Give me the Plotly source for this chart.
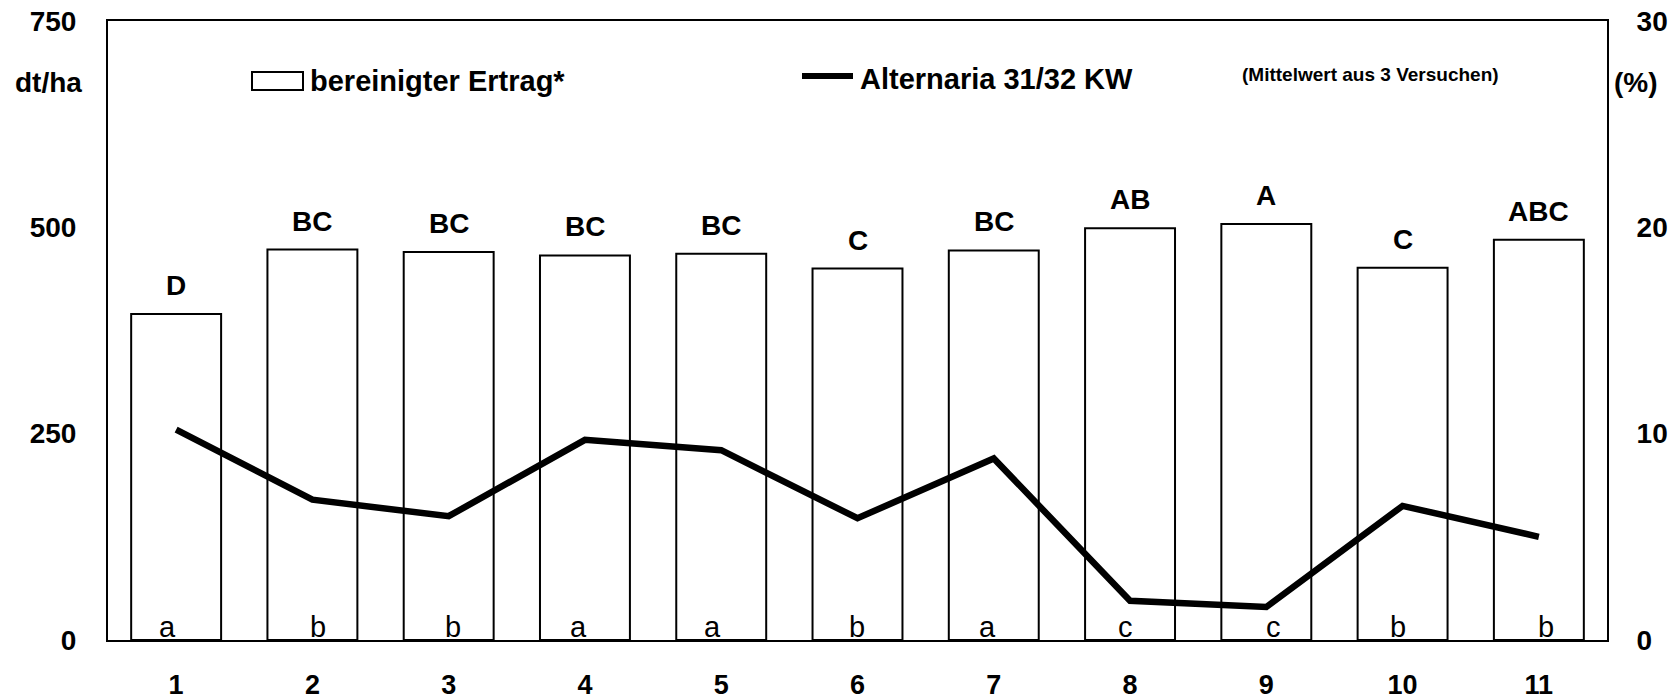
import plotly.graph_objects as go

categories = ["1", "2", "3", "4", "5", "6", "7", "8", "9", "10", "11"]
ertrag = [395, 473, 470, 466, 468, 450, 472, 499, 504, 451, 485]
alternaria = [10.2, 6.8, 6.0, 9.7, 9.2, 5.9, 8.8, 1.9, 1.6, 6.5, 5.0]
upper_letters = ["D", "BC", "BC", "BC", "BC", "C", "BC", "AB", "A", "C", "ABC"]
lower_letters = ["a", "b", "b", "a", "a", "b", "a", "c", "c", "b", "b"]
lower_shift = [-9, 6, 4, -6, -9, -1, -6, -5, 7, -5, 7]

left_ticks = [0, 250, 500, 750]
right_ticks = [0, 10, 20, 30]

FONT = "Liberation Sans, Arial, sans-serif"

fig = go.Figure()
fig.add_trace(go.Bar(
    x=categories, y=ertrag, width=0.66,
    marker=dict(color="white", line=dict(color="black", width=2)),
    showlegend=False, hoverinfo="skip",
))
fig.add_trace(go.Scatter(
    x=categories, y=alternaria, yaxis="y2", mode="lines",
    line=dict(color="black", width=6.5),
    showlegend=False, hoverinfo="skip",
))

annotations = []
for i, (v, t) in enumerate(zip(ertrag, upper_letters)):
    annotations.append(dict(x=i, y=v, xref="x", yref="y", text=t, showarrow=False,
                            yanchor="bottom", yshift=11,
                            font=dict(family=FONT, size=28, color="black", weight="bold")))
for i, (t, s) in enumerate(zip(lower_letters, lower_shift)):
    annotations.append(dict(x=i, y=0, xref="x", yref="y", text=t, showarrow=False,
                            yanchor="bottom", yshift=-5, xshift=s,
                            font=dict(family=FONT, size=29, color="black")))

W0, H0 = 1499.0, 619.0
def px(x):
    return (x - 108) / W0
def py(y):
    return (640 - y) / H0

annotations += [
    dict(x=px(84), y=py(82), xref="paper", yref="paper", text="dt/ha", showarrow=False,
         xanchor="right", yanchor="middle",
         font=dict(family=FONT, size=28, color="black", weight="bold")),
    dict(x=px(1612), y=py(82), xref="paper", yref="paper", text="(%)", showarrow=False,
         xanchor="left", yanchor="middle",
         font=dict(family=FONT, size=28, color="black", weight="bold")),
    dict(x=px(308), y=py(81), xref="paper", yref="paper", text="bereinigter Ertrag*", showarrow=False,
         xanchor="left", yanchor="middle",
         font=dict(family=FONT, size=29, color="black", weight="bold")),
    dict(x=px(858), y=py(79), xref="paper", yref="paper", text="Alternaria 31/32 KW", showarrow=False,
         xanchor="left", yanchor="middle",
         font=dict(family=FONT, size=29, color="black", weight="bold")),
    dict(x=px(1240), y=py(74), xref="paper", yref="paper", text="(Mittelwert aus 3 Versuchen)", showarrow=False,
         xanchor="left", yanchor="middle",
         font=dict(family=FONT, size=19, color="black", weight="bold")),
]

shapes = [
    dict(type="rect", xref="paper", yref="paper", x0=px(252), x1=px(303), y0=py(72), y1=py(90),
         line=dict(color="black", width=2), fillcolor="white"),
    dict(type="line", xref="paper", yref="paper", x0=px(802), x1=px(853), y0=py(76), y1=py(76),
         line=dict(color="black", width=6)),
]

fig.update_layout(
    width=1668, height=699,
    margin=dict(l=108, r=61, t=21, b=59),
    paper_bgcolor="white", plot_bgcolor="white",
    annotations=annotations, shapes=shapes,
    xaxis=dict(type="category", showgrid=False, showline=True, linecolor="black", linewidth=2,
               mirror=True, ticks="", ticklabelstandoff=20, zeroline=False, automargin=False,
               tickfont=dict(family=FONT, size=27, color="black", weight="bold")),
    yaxis=dict(range=[0, 750], tickvals=left_ticks, showgrid=False, zeroline=False,
               showline=True, linecolor="black", linewidth=2, ticks="", ticklabelstandoff=24,
               automargin=False,
               tickfont=dict(family=FONT, size=28, color="black", weight="bold")),
    yaxis2=dict(range=[0, 30], tickvals=right_ticks, overlaying="y", side="right",
                showgrid=False, zeroline=False, showline=True, linecolor="black", linewidth=2,
                ticks="", ticklabelstandoff=22, automargin=False,
                tickfont=dict(family=FONT, size=28, color="black", weight="bold")),
)

fig.write_html("out.html", config={"displayModeBar": False},
               post_script="document.body.style.margin='0';document.body.style.overflow='hidden';")
